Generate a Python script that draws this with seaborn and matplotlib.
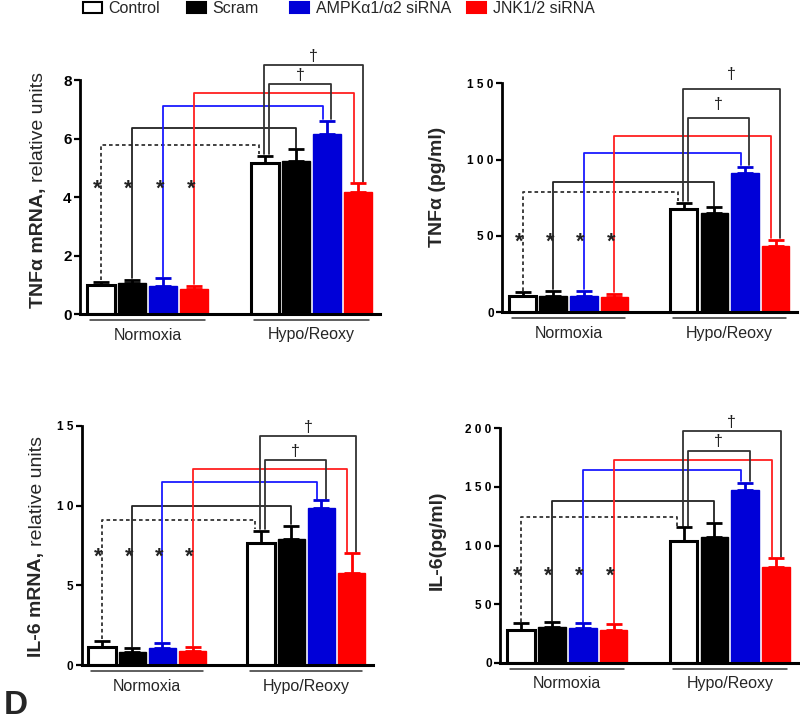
import matplotlib
matplotlib.use("Agg")
import matplotlib.pyplot as plt
import matplotlib.transforms as mtransforms
from matplotlib.patches import Patch
import numpy as np
import pandas as pd
import seaborn as sns

# ── Data ────────────────────────────────────────────────────────────────────
groups = ["Control", "Scram", "AMPKα1/α2 siRNA", "JNK1/2 siRNA"]
conditions = ["Normoxia", "Hypo/Reoxy"]

# TNFα mRNA, relative units
tnf_mrna_norm = [1.0, 1.05, 0.97, 0.84]
tnf_mrna_norm_sem = [0.11, 0.11, 0.25, 0.12]
tnf_mrna_hypo = [5.15, 5.24, 6.15, 4.17]
tnf_mrna_hypo_sem = [0.26, 0.39, 0.46, 0.30]

# TNFα protein (pg/ml)
tnf_prot_norm = [10.9, 10.9, 10.7, 10.0]
tnf_prot_norm_sem = [2.2, 3.1, 3.5, 2.2]
tnf_prot_hypo = [67.7, 65.3, 91.0, 43.4]
tnf_prot_hypo_sem = [4.1, 3.5, 4.4, 4.0]

# IL-6 mRNA, relative units
il6_mrna_norm = [1.13, 0.86, 1.08, 0.88]
il6_mrna_norm_sem = [0.41, 0.20, 0.30, 0.25]
il6_mrna_hypo = [7.68, 7.89, 9.87, 5.76]
il6_mrna_hypo_sem = [0.73, 0.83, 0.46, 1.25]

# IL-6 protein (pg/ml)
il6_prot_norm = [27.9, 30.7, 29.9, 27.9]
il6_prot_norm_sem = [5.7, 3.7, 3.7, 4.8]
il6_prot_hypo = [104.1, 107.3, 147.4, 81.4]
il6_prot_hypo_sem = [11.4, 11.6, 6.2, 7.6]

# ── Styling ─────────────────────────────────────────────────────────────────
sns.set_theme(style="ticks")
plt.rcParams["font.family"] = ["Liberation Sans", "DejaVu Sans"]

bar_colors = ["white", "black", "#0000d8", "#ff0000"]
edge_colors = ["black", "black", "#0000d8", "#ff0000"]
edge_widths = [2.2, 1.0, 1.0, 1.0]
line_colors = ["#333333", "#222222", "#1a1aff", "#ff2020"]
W, H = 800, 723
SP = 0.19  # hue spacing in seaborn units (width 0.76 / 4)


def draw_panel(fig, rect, norm, norm_sem, hypo, hypo_sem, ymax, yticks,
               bracket_y, star_y, spaced, dagger_pad=1):
    ax = fig.add_axes(rect)
    df = pd.DataFrame({
        "condition": np.repeat(conditions, len(groups)),
        "group": groups * 2,
        "value": list(norm) + list(hypo),
    })
    sns.barplot(data=df, x="condition", y="value", hue="group",
                order=conditions, hue_order=groups,
                palette=dict(zip(groups, bar_colors)), saturation=1,
                width=0.76, gap=0.1, errorbar=None, legend=False, ax=ax)

    # bars sorted left to right: Normoxia groups 0-3, then Hypo/Reoxy groups 0-3
    bars = sorted(ax.patches, key=lambda p: p.get_x())
    sems = [norm_sem, hypo_sem]
    centers = [[0, 0] for _ in groups]
    err_top = [[0, 0] for _ in groups]
    for i, bar in enumerate(bars):
        c, h = divmod(i, len(groups))
        bar.set_edgecolor(edge_colors[h])
        bar.set_linewidth(edge_widths[h])
        x = bar.get_x() + bar.get_width() / 2
        top = bar.get_height()
        e = sems[c][h]
        ax.errorbar([x], [top], yerr=[[0], [e]], fmt="none",
                    ecolor=edge_colors[h], elinewidth=2, capsize=6,
                    capthick=2, zorder=3)
        centers[h][c] = x
        err_top[h][c] = top + e

    gap = 0.006 * ymax
    # Normoxia -> Hypo/Reoxy brackets (same group)
    hypo_off = [-0.2, 0.0, -0.14, -0.14]
    for h in range(4):
        xl = centers[h][0]
        xr = centers[h][1] + hypo_off[h] * SP
        y = bracket_y[h]
        ls = (0, (2, 1.6)) if h == 0 else "-"
        ax.plot([xl, xl, xr, xr],
                [err_top[h][0] + gap, y, y, err_top[h][1] + gap],
                color=line_colors[h], lw=1.3, ls=ls, clip_on=False, zorder=2)
        ax.annotate("*", xy=(xl, star_y), xytext=(-2.5, -9.5),
                    textcoords="offset points", ha="center", va="baseline",
                    fontsize=15.5, fontweight="bold", color="#222222")

    # Hypo/Reoxy control vs siRNA brackets (dagger)
    dagger = [(2, 0.14, 0.14, bracket_y[4]), (3, -0.02, 0.14, bracket_y[5])]
    for h, loff, roff, y in dagger:
        xl = centers[0][1] + loff * SP
        xr = centers[h][1] + roff * SP
        ax.plot([xl, xl, xr, xr],
                [err_top[0][1] + gap, y, y, err_top[h][1] + gap],
                color="#333333", lw=1.3, clip_on=False, zorder=2)
        ax.annotate("†", xy=((xl + xr) / 2, y), xytext=(0, dagger_pad),
                    textcoords="offset points", ha="center", va="bottom",
                    fontsize=11.5, color="#222222")

    # group underlines and labels below the axis
    line_tr = mtransforms.offset_copy(ax.get_xaxis_transform(), fig=fig,
                                      y=-6, units="dots")
    text_tr = mtransforms.offset_copy(ax.get_xaxis_transform(), fig=fig,
                                      y=-21, units="dots")
    for c, cond in enumerate(conditions):
        x0 = centers[0][c] - 0.35 * SP
        x1 = centers[3][c] + 0.35 * SP
        ax.plot([x0, x1], [0, 0], color="#333333", lw=1.1,
                transform=line_tr, clip_on=False)
        ax.text((centers[0][c] + centers[3][c]) / 2, 0, cond,
                transform=text_tr, ha="center", va="center", fontsize=11.5)

    ax.set_xlim(centers[0][0] - 0.67 * SP, centers[3][1] + 0.7 * SP)
    ax.set_ylim(0, ymax)
    ax.set_xticks([])
    ax.set_xlabel("")
    ax.set_ylabel("")
    ax.set_yticks(yticks)
    if spaced:
        ax.set_yticklabels([" ".join(str(t)) for t in yticks],
                           fontsize=8.5, fontweight="bold")
    else:
        ax.set_yticklabels([str(t) for t in yticks],
                           fontsize=11, fontweight="bold")
    ax.tick_params(axis="y", length=4, width=1.6, direction="out", pad=2,
                   colors="black")
    sns.despine(ax=ax)
    ax.spines["left"].set_bounds(0, yticks[-1])
    ax.spines["left"].set_linewidth(2)
    ax.spines["bottom"].set_linewidth(2.2)
    ax.spines["left"].set_color("black")
    ax.spines["bottom"].set_color("black")
    return ax


def ylabel(fig, ax, x_px, y_px, bold, regular=None):
    t = fig.text(x_px / W, 1 - y_px / H, bold, rotation=90, ha="center",
                 va="bottom", fontsize=14, fontweight="bold")
    if regular:
        ax.annotate(regular, xy=(0.5, 1), xycoords=t, xytext=(0, 4),
                    textcoords="offset points", rotation=90, ha="center",
                    va="bottom", fontsize=14, annotation_clip=False)


fig = plt.figure(figsize=(8, 7.23), dpi=100)

ax1 = draw_panel(fig, [80 / W, 1 - 314 / H, 300 / W, 269 / H],
                 tnf_mrna_norm, tnf_mrna_norm_sem, tnf_mrna_hypo, tnf_mrna_hypo_sem,
                 9.2, [0, 2, 4, 6, 8], [5.78, 6.35, 7.11, 7.57, 7.85, 8.51],
                 4.52, spaced=False)
ax2 = draw_panel(fig, [502 / W, 1 - 312.3 / H, 295 / W, 252 / H],
                 tnf_prot_norm, tnf_prot_norm_sem, tnf_prot_hypo, tnf_prot_hypo_sem,
                 165, [0, 50, 100, 150], [78.6, 85.2, 104, 115.3, 126.9, 146.3],
                 50.7, spaced=True, dagger_pad=5)
ax3 = draw_panel(fig, [81.7 / W, 1 - 665.3 / H, 291 / W, 263.5 / H],
                 il6_mrna_norm, il6_mrna_norm_sem, il6_mrna_hypo, il6_mrna_hypo_sem,
                 16.5, [0, 5, 10, 15], [9.1, 9.95, 11.5, 12.27, 12.83, 14.33],
                 7.22, spaced=True)
ax4 = draw_panel(fig, [500 / W, 1 - 662.7 / H, 298 / W, 257.8 / H],
                 il6_prot_norm, il6_prot_norm_sem, il6_prot_hypo, il6_prot_hypo_sem,
                 220, [0, 50, 100, 150, 200], [124.6, 138.3, 164.4, 173, 181, 197.7],
                 80, spaced=True)

ylabel(fig, ax1, 38.5, 308, "TNFα mRNA,", "relative units")
ylabel(fig, ax2, 438, 247, "TNFα (pg/ml)")
ylabel(fig, ax3, 37, 657, "IL-6 mRNA,", "relative units")
ylabel(fig, ax4, 437.5, 590, "IL-6(pg/ml)")

# legend entries across the top
legend_x = [83, 187, 290, 467]
for g, c, ec, x in zip(groups, bar_colors, edge_colors, legend_x):
    handle = Patch(facecolor=c, edgecolor=ec, linewidth=1.5)
    fig.legend([handle], [g], loc="center left",
               bbox_to_anchor=(x / W, 1 - 8.5 / H), frameon=False,
               fontsize=11.5, handlelength=1.2, handleheight=0.75,
               handletextpad=0.4, borderpad=0, borderaxespad=0)

fig.text(0.005, 1 - 721.5 / H, "D", fontsize=24, fontweight="bold",
         ha="left", va="bottom")

fig.savefig("out.png", dpi=100)
plt.close(fig)
